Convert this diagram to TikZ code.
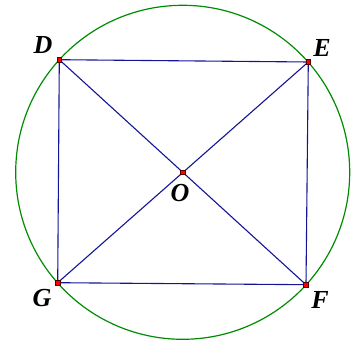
\documentclass[tikz,border=0pt]{standalone}
\usepackage{fontspec}
\setmainfont{Liberation Serif}
\definecolor{segblue}{RGB}{20,20,150}
\definecolor{circgreen}{RGB}{0,140,0}
\begin{document}
\begin{tikzpicture}[x=1pt,y=-1pt,
  seg/.style={draw=segblue,line width=1.1pt},
  pt/.style={draw=black!70!red,fill=red,minimum size=4.5pt,inner sep=0pt,line width=0.6pt,rectangle},
  lbl/.style={font=\fontsize{26}{26}\selectfont\bfseries\itshape,inner sep=0pt}]
\useasboundingbox (0,0) rectangle (360,342);
\coordinate (O) at (182.7,172.3);
\coordinate (D) at (59.3,59.7);
\coordinate (E) at (308.3,62);
\coordinate (F) at (306,284.7);
\coordinate (G) at (57.7,282.7);
\draw[circgreen,line width=1.2pt] (O) circle[radius=167];
\draw[seg] (D) -- (E) -- (F) -- (G) -- cycle;
\draw[seg] (D) -- (F);
\draw[seg] (E) -- (G);
\foreach \p in {O,D,E,F,G} \node[pt] (p\p) at (\p) {};
\node[lbl] (lD) at (43,45) {D};
\node[lbl] (lE) at (322,48) {E};
\node[lbl] (lO) at (180,193) {O};
\node[lbl] (lG) at (42,298) {G};
\node[lbl] (lF) at (320,300) {F};
\end{tikzpicture}
\end{document}
